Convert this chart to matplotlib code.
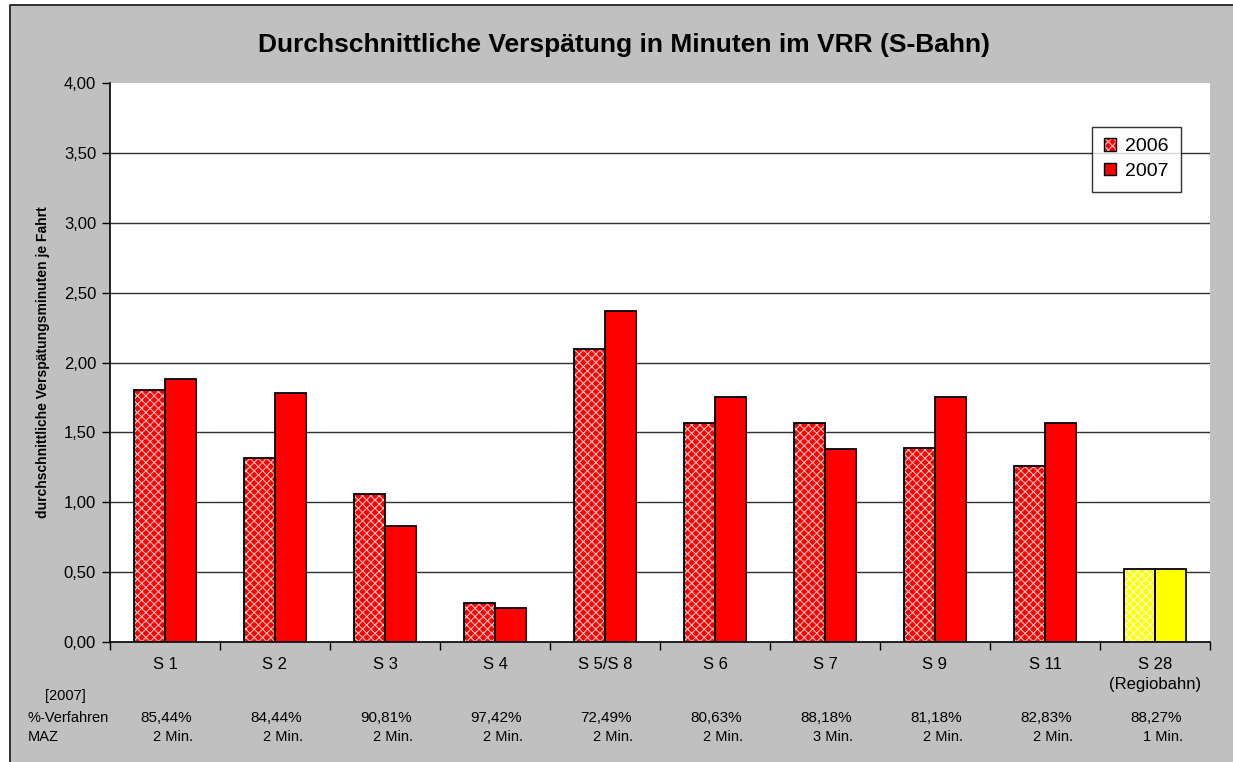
import matplotlib
matplotlib.use("Agg")
import matplotlib.pyplot as plt
from matplotlib.patches import Rectangle, Patch
from matplotlib.lines import Line2D
from matplotlib.transforms import blended_transform_factory
import numpy as np

plt.rcParams['font.family'] = ['Liberation Sans', 'DejaVu Sans']
plt.rcParams['hatch.linewidth'] = 0.8

categories = ["S 1", "S 2", "S 3", "S 4", "S 5/S 8", "S 6", "S 7", "S 9", "S 11", "S 28\n(Regiobahn)"]
v2006 = [1.80, 1.32, 1.06, 0.28, 2.10, 1.57, 1.57, 1.39, 1.26, 0.52]
v2007 = [1.88, 1.78, 0.83, 0.24, 2.37, 1.75, 1.38, 1.75, 1.57, 0.52]
pct2007 = ["85,44%", "84,44%", "90,81%", "97,42%", "72,49%", "80,63%", "88,18%", "81,18%", "82,83%", "88,27%"]
maz2007 = ["2 Min.", "2 Min.", "2 Min.", "2 Min.", "2 Min.", "2 Min.", "3 Min.", "2 Min.", "2 Min.", "1 Min."]
yticks = [0.0, 0.5, 1.0, 1.5, 2.0, 2.5, 3.0, 3.5, 4.0]
colors = ["#FF0000"] * 9 + ["#FFFF00"]
hatch_colors = ["#FFC0C0"] * 9 + ["#FFFFD0"]

W, H = 1233, 762
fig = plt.figure(figsize=(W / 100, H / 100), dpi=100, facecolor="white")
# chart area background (grey) with border on left and top only
fig.patches.append(Rectangle((9 / W, 0), (W - 9) / W, (H - 4.5) / H, transform=fig.transFigure,
                             facecolor="#C0C0C0", edgecolor="none", zorder=-10))
fig.add_artist(Line2D([9.5 / W, 9.5 / W, 1.0], [0, 1 - 4.5 / H, 1 - 4.5 / H], transform=fig.transFigure,
                      color="#303030", lw=1.4))

ax = fig.add_axes([110 / W, (H - 642) / H, 1100 / W, 559 / H])
ax.set_facecolor("white")
x = np.arange(len(categories)) + 0.5
bw = 0.28

ax.bar(x - bw / 2, v2006, bw, color=colors, edgecolor=hatch_colors, lw=0, hatch="xxxx", zorder=3)
ax.bar(x - bw / 2, v2006, bw, fill=False, edgecolor="black", lw=1.3, zorder=4)
ax.bar(x + bw / 2, v2007, bw, color=colors, edgecolor="black", lw=1.3, zorder=3)

ax.set_xlim(0, len(categories))
ax.set_ylim(0, 4)
ax.set_yticks(yticks)
ax.set_yticklabels([f"{v:.2f}".replace(".", ",") for v in yticks], fontsize=12)
for v in yticks[1:-1]:
    ax.axhline(v, color="#303030", lw=1.0, zorder=1)

ax.set_xticks(np.arange(len(categories) + 1))
ax.set_xticklabels([])
ax.set_xticks(x, minor=True)
ax.set_xticklabels(categories, minor=True, fontsize=12, linespacing=1.4, va="top")
ax.tick_params(axis="x", which="minor", length=0, pad=11)
ax.tick_params(axis="x", which="major", length=6, width=1, direction="out")
ax.tick_params(axis="y", length=6, width=1, direction="out", pad=4)
for s in ["top", "right"]:
    ax.spines[s].set_visible(False)
ax.spines["left"].set_linewidth(1.2)
ax.spines["bottom"].set_linewidth(1.2)

ax.set_ylabel("durchschnittliche Verspätungsminuten je Fahrt", fontsize=10, fontweight="bold", labelpad=10)

fig.text(624 / W, 1 - 52 / H, "Durchschnittliche Verspätung in Minuten im VRR (S-Bahn)",
         ha="center", va="baseline", fontsize=19, fontweight="bold")

h06 = (Patch(facecolor="#FF0000", edgecolor="#FFC0C0", lw=0, hatch="xxxx"),
       Patch(fill=False, edgecolor="black", lw=1))
h07 = Patch(facecolor="#FF0000", edgecolor="black", lw=1)
leg = ax.legend([h06, h07], ["2006", "2007"], loc="upper left", bbox_to_anchor=(0.893, 0.922),
                frameon=True, fancybox=False, edgecolor="black", fontsize=14,
                handlelength=0.6, handleheight=0.6, handletextpad=0.5, borderpad=0.6,
                labelspacing=0.4, borderaxespad=0)
leg.get_frame().set_linewidth(1.0)
leg.set_zorder(10)

tr = blended_transform_factory(ax.transData, fig.transFigure)
fig.text(65 / W, 1 - 700 / H, "[2007]", ha="center", va="baseline", fontsize=10.5)
fig.text(28 / W, 1 - 722 / H, "%-Verfahren", ha="left", va="baseline", fontsize=10.5)
fig.text(28 / W, 1 - 741 / H, "MAZ", ha="left", va="baseline", fontsize=10.5)
for xi, p, m in zip(x, pct2007, maz2007):
    ax.text(xi + 0.245, 1 - 722 / H, p, transform=tr, ha="right", va="baseline", fontsize=11)
    ax.text(xi + 0.255, 1 - 741 / H, m, transform=tr, ha="right", va="baseline", fontsize=10.5)

fig.savefig("out.png", dpi=100, facecolor=fig.get_facecolor())
